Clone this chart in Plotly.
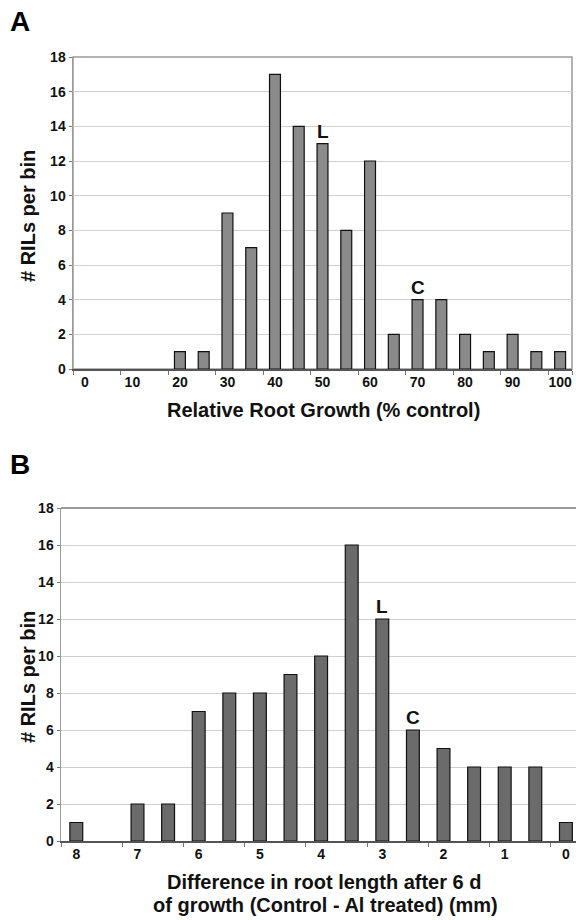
import plotly.graph_objects as go

# ---- data ----
a_bins = ["0", "5", "10", "15", "20", "25", "30", "35", "40", "45", "50",
          "55", "60", "65", "70", "75", "80", "85", "90", "95", "100"]
a_counts = [0, 0, 0, 0, 1, 1, 9, 7, 17, 14, 13, 8, 12, 2, 4, 4, 2, 1, 2, 1, 1]
a_tick_labels = ["0", "10", "20", "30", "40", "50", "60", "70", "80", "90", "100"]
a_marks = {"50": "L", "70": "C"}

b_bins = ["8", "7.5", "7", "6.5", "6", "5.5", "5", "4.5", "4", "3.5", "3",
          "2.5", "2", "1.5", "1", "0.5", "0"]
b_counts = [1, 0, 2, 2, 7, 8, 8, 9, 10, 16, 12, 6, 5, 4, 4, 4, 1]
b_tick_labels = ["8", "7", "6", "5", "4", "3", "2", "1", "0"]
b_marks = {"3": "L", "2.5": "C"}

y_ticks = [0, 2, 4, 6, 8, 10, 12, 14, 16, 18]

W, H = 576, 920
FONT = "Liberation Sans, Arial, Helvetica, sans-serif"

def px_x(x):
    return x / W

def px_y(y):
    return 1 - y / H

def outline_widths(counts):
    # empty bins draw no outline
    return [0 if c == 0 else 1.2 for c in counts]

fig = go.Figure()
fig.add_trace(go.Bar(x=a_bins, y=a_counts, xaxis="x", yaxis="y",
                     marker=dict(color="#8a8a8a",
                                 line=dict(color="#111", width=outline_widths(a_counts))),
                     width=0.46, showlegend=False))
fig.add_trace(go.Bar(x=b_bins, y=b_counts, xaxis="x2", yaxis="y2",
                     marker=dict(color="#6b6b6b",
                                 line=dict(color="#111", width=outline_widths(b_counts))),
                     width=0.42, showlegend=False))

tickfont = dict(family=FONT, size=14, color="#111", weight="bold")

common_y = dict(range=[0, 18], tickvals=y_ticks, showgrid=True, gridcolor="#cfcfcf",
                gridwidth=1, showline=True, linecolor="#9a9a9a", linewidth=1.5,
                ticks="outside", ticklen=3, tickcolor="#777", tickfont=tickfont,
                zeroline=False, fixedrange=True, automargin=False)

common_x = dict(type="category", categoryorder="array", tickmode="array",
                tickson="boundaries", ticks="outside", ticklen=4, tickcolor="#777",
                tickangle=0, showline=True, linecolor="#555", linewidth=1.5,
                showgrid=False, tickfont=tickfont, automargin=False, fixedrange=True)

fig.update_layout(
    width=W, height=H, margin=dict(l=0, r=0, t=0, b=0, autoexpand=False),
    paper_bgcolor="white", plot_bgcolor="white",
    bargap=0.5, hovermode=False,
    xaxis=dict(domain=[px_x(73), px_x(572)], anchor="y", categoryarray=a_bins,
               range=[-0.5, len(a_bins) - 0.5],
               tickvals=a_tick_labels, ticktext=a_tick_labels, **common_x),
    yaxis=dict(domain=[px_y(369), px_y(57)], anchor="x", **common_y),
    xaxis2=dict(domain=[px_x(61), 1.0], anchor="y2", categoryarray=b_bins,
                range=[-0.5, len(b_bins) - 0.5 - 0.17],
                tickvals=b_tick_labels, ticktext=b_tick_labels, **common_x),
    yaxis2=dict(domain=[px_y(841), px_y(508)], anchor="x2", **common_y),
)

# plot-area borders
fig.add_shape(type="rect", xref="x domain", yref="y domain", x0=0, x1=1, y0=0, y1=1,
              line=dict(color="#9a9a9a", width=1.5), layer="below")
fig.add_shape(type="line", xref="x2 domain", yref="y2 domain", x0=0, x1=1, y0=1, y1=1,
              line=dict(color="#9a9a9a", width=2), layer="below")

mark_font = dict(family=FONT, size=19, color="#111", weight="bold")
anns = []
for cat, lab in a_marks.items():
    i = a_bins.index(cat)
    anns.append(dict(x=i, y=a_counts[i], xref="x", yref="y", text=lab,
                     showarrow=False, xanchor="center", yanchor="bottom", yshift=0,
                     font=mark_font))
for cat, lab in b_marks.items():
    i = b_bins.index(cat)
    anns.append(dict(x=i, y=b_counts[i], xref="x2", yref="y2", text=lab,
                     showarrow=False, xanchor="center", yanchor="bottom", yshift=0,
                     font=mark_font))

title_font = dict(family=FONT, size=20, color="#111", weight="bold")
def paper_text(x, y, text, font, angle=0):
    return dict(x=px_x(x), y=px_y(y), xref="paper", yref="paper", text=text,
                showarrow=False, xanchor="center", yanchor="middle",
                textangle=angle, font=font, align="center")

letter_font = dict(family=FONT, size=28, color="#000", weight="bold")
anns += [
    paper_text(20, 21, "A", letter_font),
    paper_text(20, 464, "B", letter_font),
    paper_text(28, 216, "# RILs per bin", title_font, -90),
    paper_text(28, 677, "# RILs per bin", title_font, -90),
    paper_text(323, 410, "Relative Root Growth (% control)", title_font),
    paper_text(324, 882, "Difference in root length after 6 d", title_font),
    paper_text(325, 905, "of growth (Control - Al treated) (mm)", title_font),
]
fig.update_layout(annotations=anns)

# remove the default page margin so the 576x920 figure fills the window exactly
fig.write_html("out.html",
               config={"displayModeBar": False, "staticPlot": True},
               post_script="document.body.style.margin='0';"
                           "document.body.style.overflow='hidden';")
